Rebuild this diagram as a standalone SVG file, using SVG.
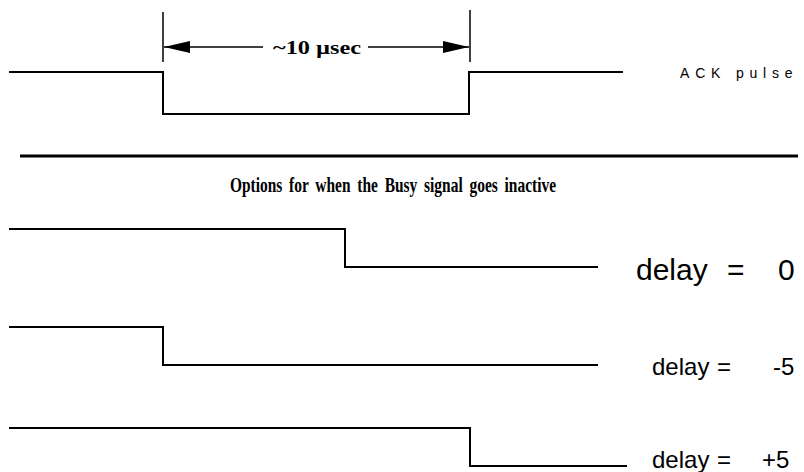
<svg xmlns="http://www.w3.org/2000/svg" width="804" height="472" viewBox="0 0 804 472">
<style>
.sig{fill:none;stroke:#000;stroke-width:2}
.tick{fill:none;stroke:#000;stroke-width:1.5}
.times{font-family:"Liberation Serif","Times New Roman",serif;font-weight:bold;fill:#000}
.sans{font-family:"Liberation Sans",Arial,sans-serif;fill:#000}
</style>
<defs>
<marker id="ah" markerWidth="26" markerHeight="12" refX="26" refY="6" orient="auto-start-reverse" markerUnits="userSpaceOnUse">
<path d="M0,0 L26,6 L0,12 Z" fill="#000"/>
</marker>
</defs>
<rect width="804" height="472" fill="#fff"/>
<g id="ack-pulse">
<path class="sig" d="M9,72 H163 V114 H469 V72 H623"/>
<text class="sans" x="680" y="78" font-size="14" letter-spacing="5.8">ACK pulse</text>
</g>
<g id="connectors">
<line class="tick" x1="163" y1="12" x2="163" y2="62"/>
<line class="tick" x1="470" y1="10" x2="470" y2="62"/>
<line class="tick" x1="164" y1="47" x2="263" y2="47" marker-start="url(#ah)"/>
<line class="tick" x1="368" y1="47" x2="469" y2="47" marker-end="url(#ah)"/>
</g>
<g id="width-label">
<text class="times" x="317" y="54" font-size="19" text-anchor="middle" textLength="88" lengthAdjust="spacingAndGlyphs">~10 µsec</text>
</g>
<g id="separator">
<line x1="20" y1="156" x2="798" y2="156" stroke="#000" stroke-width="3"/>
<text class="times" x="230" y="192" font-size="21" textLength="326" lengthAdjust="spacingAndGlyphs" word-spacing="4">Options for when the Busy signal goes inactive</text>
</g>
<g id="busy-0">
<path class="sig" d="M9,229 H345 V267 H598"/>
<text class="sans" y="280" font-size="30"><tspan x="636">delay</tspan><tspan x="727">=</tspan><tspan x="778">0</tspan></text>
</g>
<g id="busy-m5">
<path class="sig" d="M9,327 H163 V365 H598"/>
<text class="sans" y="375" font-size="24"><tspan x="652">delay</tspan><tspan x="717">=</tspan><tspan x="773">-5</tspan></text>
</g>
<g id="busy-p5">
<path class="sig" d="M9,428 H470 V466 H627"/>
<text class="sans" y="468" font-size="24"><tspan x="652">delay</tspan><tspan x="717">=</tspan><tspan x="762">+5</tspan></text>
</g>
</svg>
